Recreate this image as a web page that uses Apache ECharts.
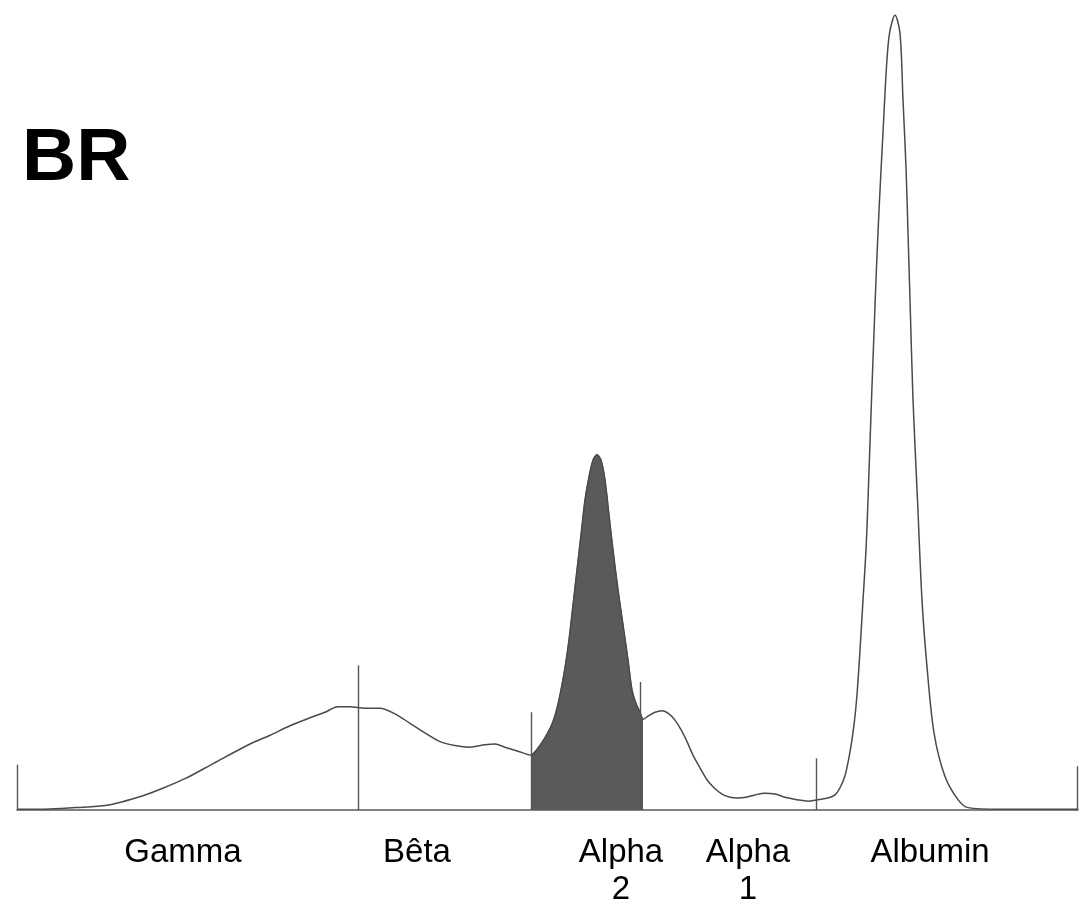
<!DOCTYPE html>
<html>
<head>
<meta charset="utf-8">
<style>
  html, body { margin: 0; padding: 0; background: #fff; }
  #chart { width: 1082px; height: 905px; }
</style>
<script src="https://cdn.jsdelivr.net/npm/echarts@6/dist/echarts.min.js"></script>
</head>
<body>
<div id="chart"></div>
<script>
// Serum protein electrophoresis trace (densitometry), migration in arbitrary units
const migration = [
  0, 2.8, 5.8, 9.0, 12.6, 14.7, 16.9, 19.7, 23.3, 25.3, 27.3, 29.3, 30.8, 32.1, 33.3,
  34.8, 36.3, 37.8, 39.3, 40.8, 42.3, 43.8, 45.3, 46.8, 47.8, 48.8, 50.1, 51.4,
  52.1, 52.8, 53.5, 54.0, 54.4, 54.8, 55.2, 55.6, 56.0, 56.4, 56.8, 57.2, 57.6, 58.0,
  58.4, 58.8, 59.2, 59.6, 60.1, 60.6, 61.1, 61.5, 61.9, 62.3, 62.6,
  63.1, 63.8, 64.5, 65.2, 65.8, 66.4, 67.0, 67.6, 68.3, 69.0, 69.7, 70.5, 71.3, 72.1,
  72.9, 73.8, 74.8, 75.8, 76.8, 78.0, 79.1, 80.1, 81.1, 81.8, 82.3, 82.8, 83.3, 83.7,
  84.0, 84.3, 84.6, 84.9, 85.1, 85.45, 85.7, 85.95, 86.25, 86.6, 86.95, 87.25, 87.8,
  88.3, 88.6, 88.9, 89.1, 89.3, 89.6, 90.05, 90.5, 91.0, 91.7, 92.8, 94.1, 95.1, 98.3, 106.1
];
const density = [
  0.1, 0.1, 0.3, 0.6, 1.8, 2.8, 4.0, 5.9, 8.3, 9.4, 10.6, 11.6, 12.3, 13.0, 13.0,
  12.8, 12.8, 12.1, 10.9, 9.7, 8.6, 8.1, 7.9, 8.2, 8.3, 7.9, 7.4, 6.9,
  7.8, 9.1, 10.8, 12.8, 15.1, 17.9, 21.4, 25.8, 30.2, 34.6, 39.0, 41.9, 44.0, 44.7,
  44.0, 41.5, 37.1, 32.7, 27.7, 23.3, 18.9, 15.1, 13.4, 12.3, 11.4,
  11.8, 12.3, 12.5, 12.1, 11.3, 10.1, 8.6, 6.9, 5.3, 3.8, 2.8, 2.0, 1.6, 1.5,
  1.6, 1.9, 2.1, 2.0, 1.6, 1.3, 1.1, 1.3, 1.5, 1.9, 2.8, 4.3, 7.3, 10.7,
  14.5, 20.1, 26.4, 32.7, 39.0, 51.6, 60.0, 68.3, 76.7, 85.2, 93.5, 97.7, 100,
  97.7, 89.3, 80.9, 72.6, 64.2, 51.6, 39.0, 26.4, 18.0, 9.7, 4.2, 1.3, 0.3, 0.1, 0.1
];

// Fraction boundaries (position, marker height)
const boundaryPos = [0, 34.1, 51.4, 62.3, 79.9, 106.0];
const boundaryHeight = [5.7, 18.2, 12.3, 16.1, 6.5, 5.5];

// Highlighted fraction (Alpha 2)
const highlightFrom = 51.4;
const highlightTo = 62.6;

// Fraction names and label positions
const fractionNames = ['Gamma', 'Bêta', 'Alpha\n2', 'Alpha\n1', 'Albumin'];
const fractionCenters = [16.6, 40.0, 60.4, 73.1, 91.3];

const trace = migration.map((x, i) => [x, density[i]]);
const highlighted = trace.filter(p => p[0] >= highlightFrom && p[0] <= highlightTo);

const chart = echarts.init(document.getElementById('chart'), null, { renderer: 'canvas' });

chart.setOption({
  animation: false,
  backgroundColor: '#ffffff',
  grid: { left: 17, right: 4, top: 15, bottom: 95 },
  xAxis: {
    type: 'value', min: 0, max: 106.1,
    axisLine: { show: true, lineStyle: { color: '#5a5a5a', width: 1.6 } },
    axisTick: { show: false }, axisLabel: { show: false }, splitLine: { show: false }
  },
  yAxis: {
    type: 'value', min: 0, max: 100, show: false, splitLine: { show: false }
  },
  graphic: [{
    type: 'text', left: 22, top: 122,
    style: { text: 'BR', fontFamily: 'Liberation Sans, Arial, sans-serif', fontWeight: 'bold', fontSize: 75, fill: '#000' }
  }],
  series: [
    {
      type: 'line', data: highlighted, smooth: 0.3, symbol: 'none',
      lineStyle: { color: '#5a5a5a', width: 1 },
      areaStyle: { color: '#5a5a5a', opacity: 1 },
      z: 2
    },
    {
      type: 'line', data: trace, smooth: 0.3, symbol: 'none',
      lineStyle: { color: '#4a4a4a', width: 1.5 },
      z: 3,
      markLine: {
        silent: true, symbol: 'none', label: { show: false },
        lineStyle: { color: '#555', width: 1.4, type: 'solid' },
        data: boundaryPos.map((x, i) => [{ coord: [x, 0] }, { coord: [x, boundaryHeight[i]] }])
      }
    },
    {
      type: 'scatter', symbolSize: 0, clip: false, silent: true,
      data: fractionCenters.map((x, i) => ({ value: [x, 0], name: fractionNames[i] })),
      label: {
        show: true, position: 'bottom', distance: 24,
        formatter: p => p.name,
        fontFamily: 'Liberation Sans, Arial, sans-serif', fontSize: 33, lineHeight: 37,
        color: '#000', opacity: 1, textBorderWidth: 0, align: 'center'
      },
      z: 4
    }
  ]
});
</script>
</body>
</html>
